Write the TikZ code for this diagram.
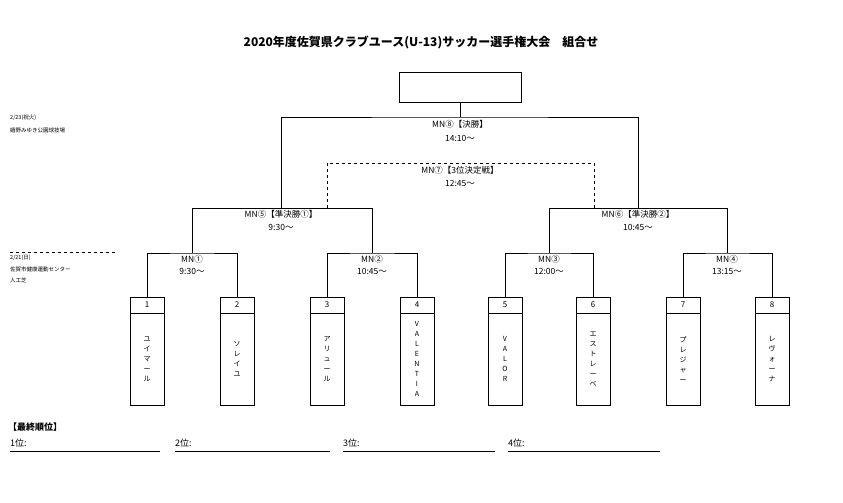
\documentclass[tikz,border=0pt]{standalone}
\usepackage{fontspec}
\setmainfont{Noto Sans CJK JP}
\begin{document}
\begin{tikzpicture}[x=1pt,y=-1pt,
  team/.style={draw,minimum width=34pt,minimum height=92pt,inner sep=0pt},
  num/.style={draw,minimum width=34pt,minimum height=16pt,inner sep=0pt,font=\footnotesize},
  lbl/.style={font=\fontsize{8.5}{10}\selectfont,inner sep=1pt},
  tiny/.style={font=\fontsize{5.5}{6}\selectfont,anchor=west,inner sep=0pt}]
  \useasboundingbox (0,0) rectangle (843,503);
  \node[font=\large\bfseries] (title) at (421,42) {2020年度佐賀県クラブユース(U-13)サッカー選手権大会\quad 組合せ};
  \node[draw,minimum width=122pt,minimum height=30pt] (champ) at (460,87) {};
  % teams
  \foreach \x/\n/\t in {147/1/{ユ\\イ\\マ\\ー\\ル},237/2/{ソ\\レ\\イ\\ユ},327/3/{ア\\リ\\ュ\\ー\\ル},
      417/4/{V\\A\\L\\E\\N\\T\\I\\A},505/5/{V\\A\\L\\O\\R},593/6/{エ\\ス\\ト\\レ\\ー\\ベ},
      683/7/{プ\\レ\\ジ\\ャ\\ー},772/8/{レ\\ヴ\\ォ\\ー\\ナ}} {
    \node[num] (n\n) at (\x,305) {\n};
    \node[team,anchor=north,align=center,font=\fontsize{7}{10}\selectfont] (t\n) at (n\n.south) {\t};
  }
  % round 1
  \foreach \a/\b/\m/\c/\tm in {1/2/①/192/9:30〜,3/4/②/372/10:45〜,5/6/③/549/12:00〜,7/8/④/727/13:15〜} {
    \draw (n\a.north) |- (\c,253) coordinate (r\m) -| (n\b.north);
    \node[lbl] at (\c,259) {MN\m};
    \node[lbl] at (\c,271) {\tm};
  }
  % round 2
  \draw (r①) -- (192,208) -- (372,208) -- (r②);
  \draw (r③) -- (549,208) -- (727,208) -- (r④);
  \node[lbl] at (281,214) {MN⑤【準決勝①】};
  \node[lbl] at (281,227) {9:30〜};
  \node[lbl] at (638,214) {MN⑥【準決勝②】};
  \node[lbl] at (638,227) {10:45〜};
  % final
  \draw (281,208) |- (460,117) -| (638,208);
  \draw (460,117) -- (champ.south);
  \node[lbl] at (460,124) {MN⑧【決勝】};
  \node[lbl] at (460,138) {14:10〜};
  % 3rd place
  \draw[dashed] (327,208) |- (460,163) -| (594,208);
  \node[lbl] at (460,170) {MN⑦【3位決定戦】};
  \node[lbl] at (460,183) {12:45〜};
  % venues
  \node[tiny] at (10,118) {2/23(祝火)};
  \node[tiny] at (10,130) {嬉野みゆき公園球技場};
  \draw[dashed] (10,252) -- (115,252);
  \node[tiny] at (10,258) {2/21(日)};
  \node[tiny] at (10,269) {佐賀市健康運動センター};
  \node[tiny] at (10,280) {人工芝};
  % ranking
  \node[font=\small\bfseries,anchor=west,inner sep=0pt] at (8,427) {【最終順位】};
  \foreach \x/\r/\e in {10/1/160,175/2/330,343/3/495,508/4/660} {
    \node[font=\small,anchor=west,inner sep=0pt] at (\x,443) {\r 位:};
    \draw (\x,451) -- (\e,451);
  }
\end{tikzpicture}
\end{document}
